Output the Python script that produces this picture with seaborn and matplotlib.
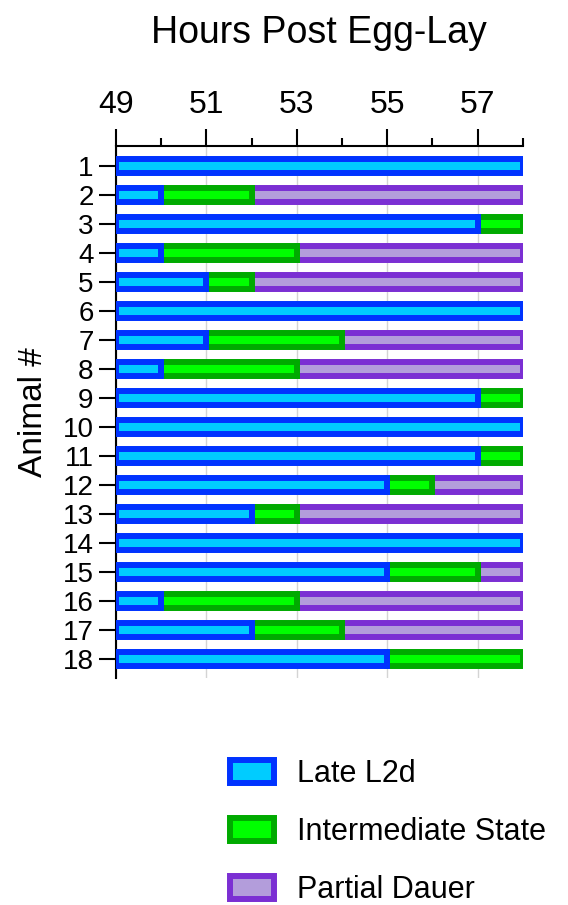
"""
Línea de tiempo por animal: Late L2d -> Intermediate State -> Partial Dauer
(barras horizontales apiladas, eje x arriba).
"""

import matplotlib
matplotlib.use('Agg')
import matplotlib.pyplot as plt
import pandas as pd
import seaborn as sns

# ── Datos ─────────────────────────────────────────────────────────────────────
animals = [str(i) for i in range(1, 19)]
start_hour = 49
end_hour = 58
# hora en que termina cada etapa
l2d_end   = [58, 50, 57, 50, 51, 58, 51, 50, 57, 58, 57, 55, 52, 58, 55, 50, 52, 55]
inter_end = [58, 52, 58, 53, 52, 58, 54, 53, 58, 58, 58, 56, 53, 58, 57, 53, 54, 58]

stages = ['Late L2d', 'Intermediate State', 'Partial Dauer']
EDGE = {
    'Late L2d':           '#0033FF',
    'Intermediate State': '#00AA00',
    'Partial Dauer':      '#7B2FD3',
}
FILL = {
    'Late L2d':           '#00CCFF',
    'Intermediate State': '#00FF00',
    'Partial Dauer':      '#B39DDB',
}

# tabla larga: un segmento por animal y etapa
rows = []
for a, e1, e2 in zip(animals, l2d_end, inter_end):
    rows.append((a, 'Late L2d', start_hour, e1 - start_hour))
    rows.append((a, 'Intermediate State', e1, e2 - e1))
    rows.append((a, 'Partial Dauer', e2, end_hour - e2))
df = pd.DataFrame(rows, columns=['animal', 'stage', 'left', 'dur'])
df = df[df['dur'] > 0]

# ── Estilo ────────────────────────────────────────────────────────────────────
sns.set_style('ticks')
plt.rcParams['font.family'] = ['Liberation Sans', 'DejaVu Sans']
for k in ['text.color', 'axes.labelcolor', 'xtick.color', 'ytick.color']:
    plt.rcParams[k] = 'black'

fig = plt.figure(figsize=(5.68, 9.05), dpi=100)
ax = fig.add_axes([0.204, 0.2508, 0.7165, 0.5878])

# dibujar de atrás hacia adelante para que el borde izquierdo quede bien
for stage in reversed(stages):
    sub = df[df['stage'] == stage]
    sns.barplot(
        data=sub,
        x='dur',
        y='animal',
        order=animals,
        orient='h',
        left=sub['left'].values,
        width=0.48,
        errorbar=None,
        saturation=1,
        color=FILL[stage],
        facecolor=FILL[stage],
        edgecolor=EDGE[stage],
        linewidth=4.3,
        label=stage,
        ax=ax,
        zorder=3,
    )

handles, labels = ax.get_legend_handles_labels()
if ax.get_legend() is not None:
    ax.get_legend().remove()

# ── Ejes ──────────────────────────────────────────────────────────────────────
ax.set_xlim(start_hour, end_hour)
ax.set_ylim(17.655, -0.69)
ax.xaxis.tick_top()
ax.set_xticks([49, 51, 53, 55, 57])
ax.set_xticks([50, 52, 54, 56, 58], minor=True)
ax.tick_params(axis='x', which='major', length=12, width=1.5, labelsize=23, pad=7)
ax.tick_params(axis='x', which='minor', length=6, width=1.5)
ax.tick_params(axis='y', length=12, width=1.5, labelsize=20, pad=4)
ax.grid(True, axis='x', which='major', color='#d4d4d4', linewidth=1)
ax.set_axisbelow(True)

for side in ['right', 'bottom']:
    ax.spines[side].set_visible(False)
for side in ['top', 'left']:
    ax.spines[side].set_linewidth(1.5)
    ax.spines[side].set_color('black')

ax.set_xlabel('')
ax.set_ylabel('Animal #', fontsize=24, labelpad=10)
ax.set_title('Hours Post Egg-Lay', fontsize=27, y=1.213, va='center', pad=0)

# ── Leyenda ───────────────────────────────────────────────────────────────────
by_label = dict(zip(labels, handles))
fig.legend(
    [by_label[s] for s in stages],
    stages,
    loc='upper left',
    bbox_to_anchor=(0.405, 1 - 759 / 905),
    frameon=False,
    fontsize=22,
    handlelength=1.44,
    handleheight=0.78,
    labelspacing=0.92,
    handletextpad=0.75,
    borderpad=0,
    borderaxespad=0,
)

fig.savefig('out.png', dpi=100)
